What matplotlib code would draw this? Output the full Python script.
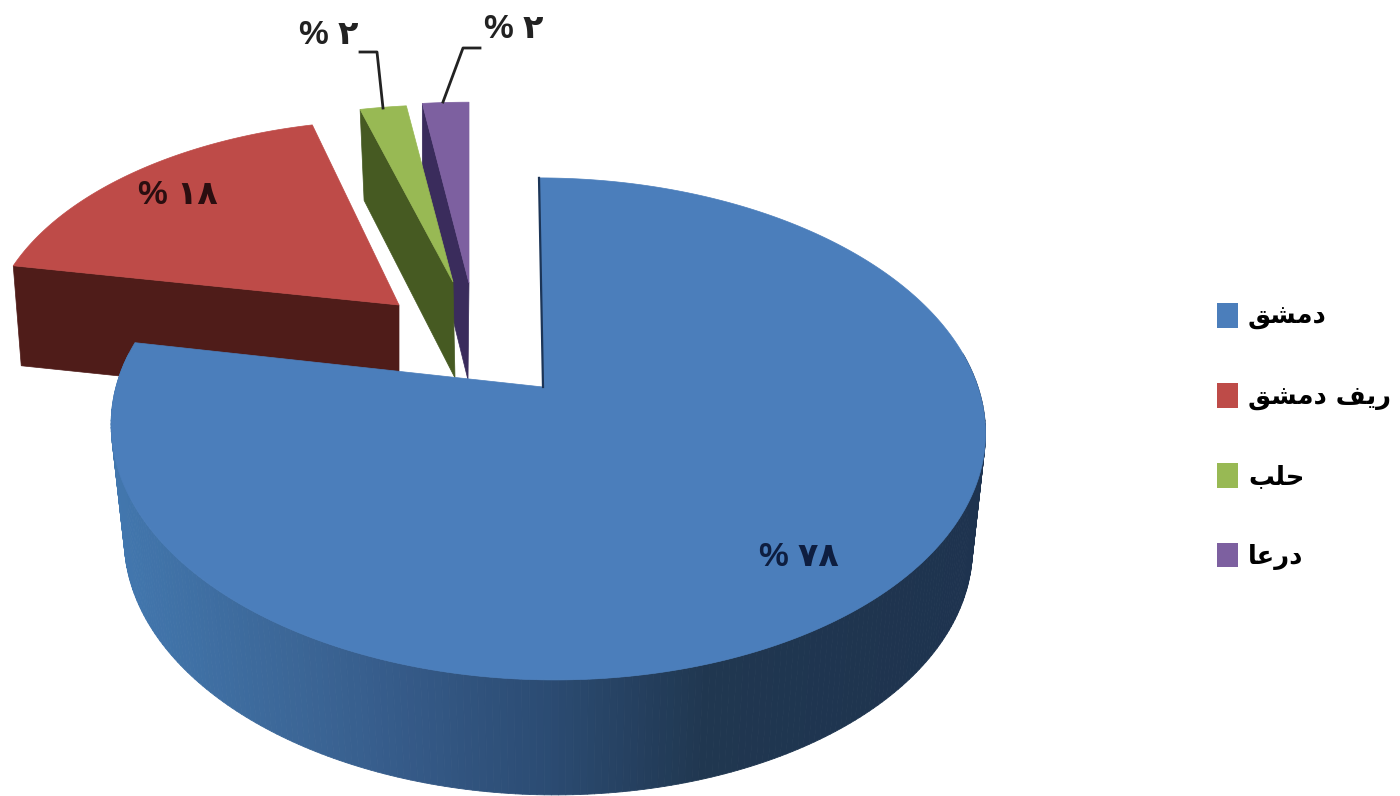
import numpy as np
import matplotlib
matplotlib.use("Agg")
import matplotlib.pyplot as plt
from matplotlib.collections import PolyCollection
from matplotlib.colors import LinearSegmentedColormap
from matplotlib.patches import Patch, Polygon

# Data. matplotlib does no Arabic shaping, so names are joined forms in visual order
categories = ["ﻖﺸﻣﺩ", "ﻖﺸﻣﺩ ﻒﻳﺭ", "ﺐﻠﺣ", "ﺎﻋﺭﺩ"]
shares = [78, 18, 2, 2]
share_labels = ["% ٧٨", "% ١٨", "% ٢", "% ٢"]
top_colors = ["#4B7EBB", "#BE4B48", "#98B954", "#7D60A0"]
wall_colors = ["#2C4D75", "#4F1C19", "#465A22", "#3A2C5C"]

# Layout in image pixels: apex, radii, x skew, wall offset at apex and at rim
centres = [(547, 387), (399, 305), (453, 282), (469, 283)]
radii = [(431, 244), (405, 216), (434, 207), (434, 211)]
skews = [8, 0, 0, 0]
apex_drop = [(0, 115), (0, 100), (2, 96), (-1, 97)]
rim_drop = [(0, 115), (8, 100), (4, 91), (0, 92)]
apex_x_blue = 543
persp = 0.167

fig = plt.figure(figsize=(14, 7.96), dpi=100)
ax = fig.add_axes([0, 0, 1, 1])
ax.set_xlim(0, 1400)
ax.set_ylim(796, 0)
ax.axis("off")


def rim(theta, centre, radius, skew=0):
    u, v = np.cos(theta), np.sin(theta)
    w = 1 + persp * v
    return np.column_stack((centre[0] + radius[0] * u / w - skew * v,
                            centre[1] - radius[1] * v / w))


# Slice angles, clockwise from 12 o'clock
stops = 90 - 3.6 * np.cumsum([0] + shares)
stops = np.radians(stops)

# Small slices and the red one, back to front
z = 1
for i in [3, 2, 1]:
    arc = rim(np.linspace(stops[i], stops[i + 1], 120), centres[i], radii[i], skews[i])
    apex = np.array(centres[i], dtype=float)
    # the radial face that looks towards the viewer
    wall = [arc[0], arc[0] + rim_drop[i], apex + apex_drop[i], apex]
    ax.add_patch(Polygon(wall, closed=True, fc=wall_colors[i], ec=wall_colors[i], lw=0.5, zorder=z))
    ax.add_patch(Polygon(np.vstack((apex, arc)), closed=True, fc=top_colors[i], ec=top_colors[i],
                         lw=0.5, zorder=z + 1))
    z += 2

# Blue outer wall, shaded from left to right
blue_shade = LinearSegmentedColormap.from_list(
    "blue_wall", [(0, "#4277AE"), (0.22, "#3B6595"), (0.33, "#355A88"), (0.5, "#2B4B72"),
                  (0.68, "#203750"), (1, "#1E334F")])
t = np.radians(np.linspace(172, 368, 240))
upper = rim(t, centres[0], radii[0], skews[0])
lower = rim(t, (centres[0][0], centres[0][1] + apex_drop[0][1]), (radii[0][0] * 0.97, radii[0][1]), skews[0])
quads = [[upper[i], upper[i + 1], lower[i + 1], lower[i]] for i in range(len(t) - 1)]
shade = (upper[:-1, 0] - 110) / 875
ax.add_collection(PolyCollection(quads, facecolors=blue_shade(shade), edgecolors=blue_shade(shade),
                                 linewidths=0.6, zorder=z))

# Blue top face with the thin dark edge on its inner side
arc = rim(np.linspace(stops[0], stops[1], 400), centres[0], radii[0], skews[0])
apex = np.array([apex_x_blue, centres[0][1]], dtype=float)
ax.add_patch(Polygon(np.vstack((apex, arc)), closed=True, fc=top_colors[0], ec=top_colors[0],
                     lw=0.5, zorder=z + 1))
ax.plot([arc[0, 0], apex[0]], [arc[0, 1], apex[1]], color="#1C3557", lw=1.6, zorder=z + 2)

# Leader lines
ax.plot([360, 377, 383], [52, 52, 108], color="#222222", lw=2, zorder=20)
ax.plot([480, 463, 443], [48, 48, 102], color="#222222", lw=2, zorder=20)

# Percent labels
label_font = ["Liberation Sans", "DejaVu Sans"]
label_pos = [(799, 558), (178, 196), (329, 36), (514, 29)]
label_colors = ["#0E1E40", "#2A0E10", "#222222", "#222222"]
for s, pos, c in zip(share_labels, label_pos, label_colors):
    ax.text(pos[0], pos[1], s, ha="center", va="center", fontsize=24, fontweight="bold",
            color=c, family=label_font, zorder=21)

# Legend
handles = [Patch(facecolor=c, edgecolor="none") for c in top_colors]
ax.legend(handles, categories, loc="upper left", bbox_to_anchor=(1217, 303), bbox_transform=ax.transData,
          frameon=False, prop={"family": "DejaVu Sans", "weight": "bold", "size": 18.5},
          handlelength=0.82, handleheight=1.1, handletextpad=0.39, labelspacing=2.05,
          borderpad=0, borderaxespad=0)

plt.savefig("out.png", dpi=100)
